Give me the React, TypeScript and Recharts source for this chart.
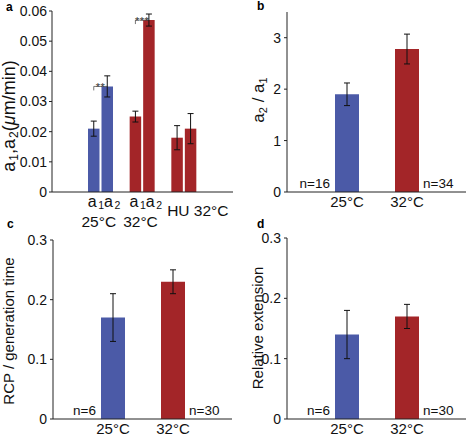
import React from 'react';
import { BarChart, Bar, XAxis, YAxis, ErrorBar, Rectangle } from 'recharts';

const FONT = '"Liberation Sans", Arial, Helvetica, sans-serif';
const BLUE = '#4b5aa7';
const RED = '#a32528';
const AXIS = '#222';

// panel a: elongation rates a1 / a2
const groupsA = ['25°C', '32°C', 'HU 32°C'];
const a1Means = [0.021, 0.025, 0.018];
const a1Errors = [0.0025, 0.0018, 0.004];
const a2Means = [0.035, 0.057, 0.021];
const a2Errors = [0.0035, 0.002, 0.005];
const sigMarks = ['**', '***', ''];
const ticksA = [0, 0.01, 0.02, 0.03, 0.04, 0.05, 0.06];

// panels b-d
const temps = ['25°C', '32°C'];
const ratioMeans = [1.9, 2.78];
const ratioErrors = [0.22, 0.29];
const ratioN = [16, 34];
const ticksB = [0, 1, 2, 3];
const minorB = [0, 0.5, 1, 1.5, 2, 2.5, 3, 3.5];

const rcpMeans = [0.17, 0.23];
const rcpErrors = [0.04, 0.02];
const rcpN = [6, 30];

const extMeans = [0.14, 0.17];
const extErrors = [0.04, 0.02];
const extN = [6, 30];

const ticksCD = [0, 0.1, 0.2, 0.3];
const minorCD = [0, 0.05, 0.1, 0.15, 0.2, 0.25, 0.3];

const colorsA = [BLUE, RED, RED];
const colorsT = [BLUE, RED];

const dataA = groupsA.map((g, i) => ({
  g,
  a1: a1Means[i],
  a1Err: a1Errors[i],
  a2: a2Means[i],
  a2Err: a2Errors[i],
  sig: sigMarks[i],
  color: colorsA[i],
}));

const fmtA = (v: number) => (v === 0 ? '0' : v.toFixed(2));
const fmtCD = (v: number) => (v === 0 ? '0' : v.toFixed(1));
const blank = () => '';

const tickStyle = { fontSize: 14, fill: '#111', fontFamily: FONT };

// bar a2 draws the significance bracket above itself
const SigBar = (props: any) => {
  const { x, y, width, height, payload } = props;
  const c1 = x - 2 - width / 2;
  const c2 = x + width / 2;
  return (
    <g>
      <Rectangle x={x} y={y} width={width} height={height} fill={payload.color} />
      {payload.sig && (
        <g>
          <path d={`M${c1},${y + 4}L${c1},${y}L${c2},${y}`} stroke="#555" strokeWidth={0.8} fill="none" />
          <text x={(c1 + c2) / 2} y={y + 4.5} textAnchor="middle" fontSize={11} letterSpacing={0.5} fill="#333" fontFamily={FONT}>
            {payload.sig}
          </text>
        </g>
      )}
    </g>
  );
};

const PlainBar = (props: any) => {
  const { x, y, width, height, payload } = props;
  return <Rectangle x={x} y={y} width={width} height={height} fill={payload.color} />;
};

const TickA = (props: any) => {
  const { x, y, payload, index } = props;
  if (index === 2) {
    return (
      <text x={x - 17} y={y + 22} fontSize={15.5} fill="#111" fontFamily={FONT}>
        {payload.value}
      </text>
    );
  }
  return (
    <g fontFamily={FONT} fill="#111">
      <text x={x - 13} y={y + 13} fontSize={16}>
        a<tspan fontSize={10.5} dx={1.5} dy={2}>1</tspan>
        <tspan dy={-2}>a</tspan>
        <tspan fontSize={10.5} dx={1.5} dy={2}>2</tspan>
      </text>
      <text x={x - 2} y={y + 33} fontSize={15.5} textAnchor="middle">
        {payload.value}
      </text>
    </g>
  );
};

const PanelA = () => (
  <BarChart
    width={234}
    height={232}
    data={dataA}
    margin={{ top: 11, right: 1, bottom: 0, left: 0 }}
    barSize={11.5}
    barGap={2}
  >
    <XAxis
      dataKey="g"
      height={40}
      padding={{ left: 28, right: 28 }}
      tick={<TickA />}
      tickLine={false}
      tickSize={0}
      axisLine={{ stroke: AXIS }}
      interval={0}
    />
    <XAxis xAxisId="top" dataKey="g" orientation="top" height={0} tick={false} tickLine={false} axisLine={{ stroke: AXIS }} />
    <YAxis
      width={52}
      domain={[0, 0.06]}
      ticks={ticksA}
      tickFormatter={fmtA}
      tick={tickStyle}
      tickSize={3}
      tickMargin={2}
      tickLine={{ stroke: AXIS }}
      axisLine={{ stroke: AXIS }}
      interval={0}
      label={{
        content: () => (
          <text transform="translate(15,116) rotate(-90)" textAnchor="middle" fontSize={18} fill="#111" fontFamily={FONT}>
            a<tspan fontSize={12} dx={1} dy={3}>1</tspan>
            <tspan dy={-3}>,a</tspan>
            <tspan fontSize={12} dx={1} dy={3}>2</tspan>
            <tspan dy={-3}>(</tspan>
            <tspan fontStyle="italic">μ</tspan>
            <tspan>m/min)</tspan>
          </text>
        ),
      }}
    />
    <YAxis
      yAxisId="r"
      orientation="right"
      width={0}
      mirror
      domain={[0, 0.06]}
      ticks={ticksA}
      tickFormatter={blank}
      tickSize={3}
      tickLine={{ stroke: AXIS }}
      axisLine={{ stroke: AXIS }}
      interval={0}
    />
    <Bar dataKey="a1" shape={<PlainBar />} isAnimationActive={false}>
      <ErrorBar dataKey="a1Err" width={3} stroke="#111" strokeWidth={1} direction="y" />
    </Bar>
    <Bar dataKey="a2" shape={<SigBar />} isAnimationActive={false}>
      <ErrorBar dataKey="a2Err" width={3} stroke="#111" strokeWidth={1} direction="y" />
    </Bar>
  </BarChart>
);

interface PanelProps {
  means: number[];
  errors: number[];
  ns: number[];
  ticks: number[];
  minor: number[];
  max: number;
  fmt: (v: number) => string;
  plotTop: number;
  plotBottom: number;
  title: React.ReactNode;
  titleX: number;
  titleY: number;
  titleSize: number;
}

const NBar = (props: any) => {
  const { x, y, width, height, payload, index } = props;
  const base = y + height;
  const left = index === 0;
  return (
    <g>
      <Rectangle x={x} y={y} width={width} height={height} fill={payload.color} />
      <text
        x={left ? x - 5 : x + width + 4}
        y={base - 4}
        textAnchor={left ? 'end' : 'start'}
        fontSize={13.5}
        fill="#111"
        fontFamily={FONT}
      >
        {`n=${payload.n}`}
      </text>
    </g>
  );
};

const TempPanel = ({ means, errors, ns, ticks, minor, max, fmt, plotTop, plotBottom, title, titleX, titleY, titleSize }: PanelProps) => {
  const data = temps.map((t, i) => ({ t, v: means[i], err: errors[i], n: ns[i], color: colorsT[i] }));
  return (
    <BarChart
      width={234}
      height={218}
      data={data}
      margin={{ top: plotTop, right: 2, bottom: 0, left: 0 }}
      barSize={24}
    >
      <XAxis
        dataKey="t"
        height={218 - plotBottom}
        padding={{ left: 30, right: 29 }}
        tick={{ fontSize: 15, fill: '#111', fontFamily: FONT }}
        tickLine={false}
        tickSize={0}
        tickMargin={4}
        axisLine={{ stroke: AXIS }}
        interval={0}
      />
      <XAxis xAxisId="top" dataKey="t" orientation="top" height={0} tick={false} tickLine={false} axisLine={{ stroke: AXIS }} />
      <YAxis
        width={53}
        domain={[0, max]}
        ticks={ticks}
        tickFormatter={fmt}
        tick={tickStyle}
        tickSize={3}
        tickMargin={3}
        tickLine={{ stroke: AXIS }}
        axisLine={{ stroke: AXIS }}
        interval={0}
        label={{
          content: () => (
            <text transform={`translate(${titleX},${titleY}) rotate(-90)`} textAnchor="middle" fontSize={titleSize} fill="#111" fontFamily={FONT}>
              {title}
            </text>
          ),
        }}
      />
      <YAxis
        yAxisId="r"
        orientation="right"
        width={0}
        mirror
        domain={[0, max]}
        ticks={minor}
        tickFormatter={blank}
        tickSize={3}
        tickLine={{ stroke: AXIS }}
        axisLine={{ stroke: AXIS }}
        interval={0}
      />
      <Bar dataKey="v" shape={<NBar />} isAnimationActive={false}>
        <ErrorBar dataKey="err" width={3} stroke="#111" strokeWidth={1} direction="y" />
      </Bar>
    </BarChart>
  );
};

const letterStyle: React.CSSProperties = { position: 'absolute', fontFamily: FONT, fontWeight: 'bold', fontSize: 12, lineHeight: '12px' };

export default function App() {
  return (
    <div style={{ position: 'absolute', left: 0, top: 0, width: 468, height: 436, background: '#fff', overflow: 'hidden' }}>
      <div style={{ position: 'absolute', left: 0, top: 0 }}>
        <PanelA />
      </div>
      <div style={{ position: 'absolute', left: 234, top: 0 }}>
        <TempPanel
          means={ratioMeans}
          errors={ratioErrors}
          ns={ratioN}
          ticks={ticksB}
          minor={minorB}
          max={3.5}
          fmt={(v) => String(v)}
          plotTop={12}
          plotBottom={192}
          title={
            <>
              a<tspan fontSize={11} dy={3}>2</tspan>
              <tspan dy={-3}> / a</tspan>
              <tspan fontSize={11} dy={3}>1</tspan>
            </>
          }
          titleX={30}
          titleY={100}
          titleSize={17}
        />
      </div>
      <div style={{ position: 'absolute', left: 0, top: 218 }}>
        <TempPanel
          means={rcpMeans}
          errors={rcpErrors}
          ns={rcpN}
          ticks={ticksCD}
          minor={minorCD}
          max={0.3}
          fmt={fmtCD}
          plotTop={22}
          plotBottom={201}
          title="RCP / generation time"
          titleX={14}
          titleY={113}
          titleSize={15}
        />
      </div>
      <div style={{ position: 'absolute', left: 234, top: 218 }}>
        <TempPanel
          means={extMeans}
          errors={extErrors}
          ns={extN}
          ticks={ticksCD}
          minor={minorCD}
          max={0.3}
          fmt={fmtCD}
          plotTop={20}
          plotBottom={201}
          title="Relative extension"
          titleX={29}
          titleY={110}
          titleSize={15}
        />
      </div>
      <div style={{ ...letterStyle, left: 6, top: 1 }}>a</div>
      <div style={{ ...letterStyle, left: 257, top: 0 }}>b</div>
      <div style={{ ...letterStyle, left: 7, top: 218 }}>c</div>
      <div style={{ ...letterStyle, left: 257, top: 218 }}>d</div>
    </div>
  );
}
